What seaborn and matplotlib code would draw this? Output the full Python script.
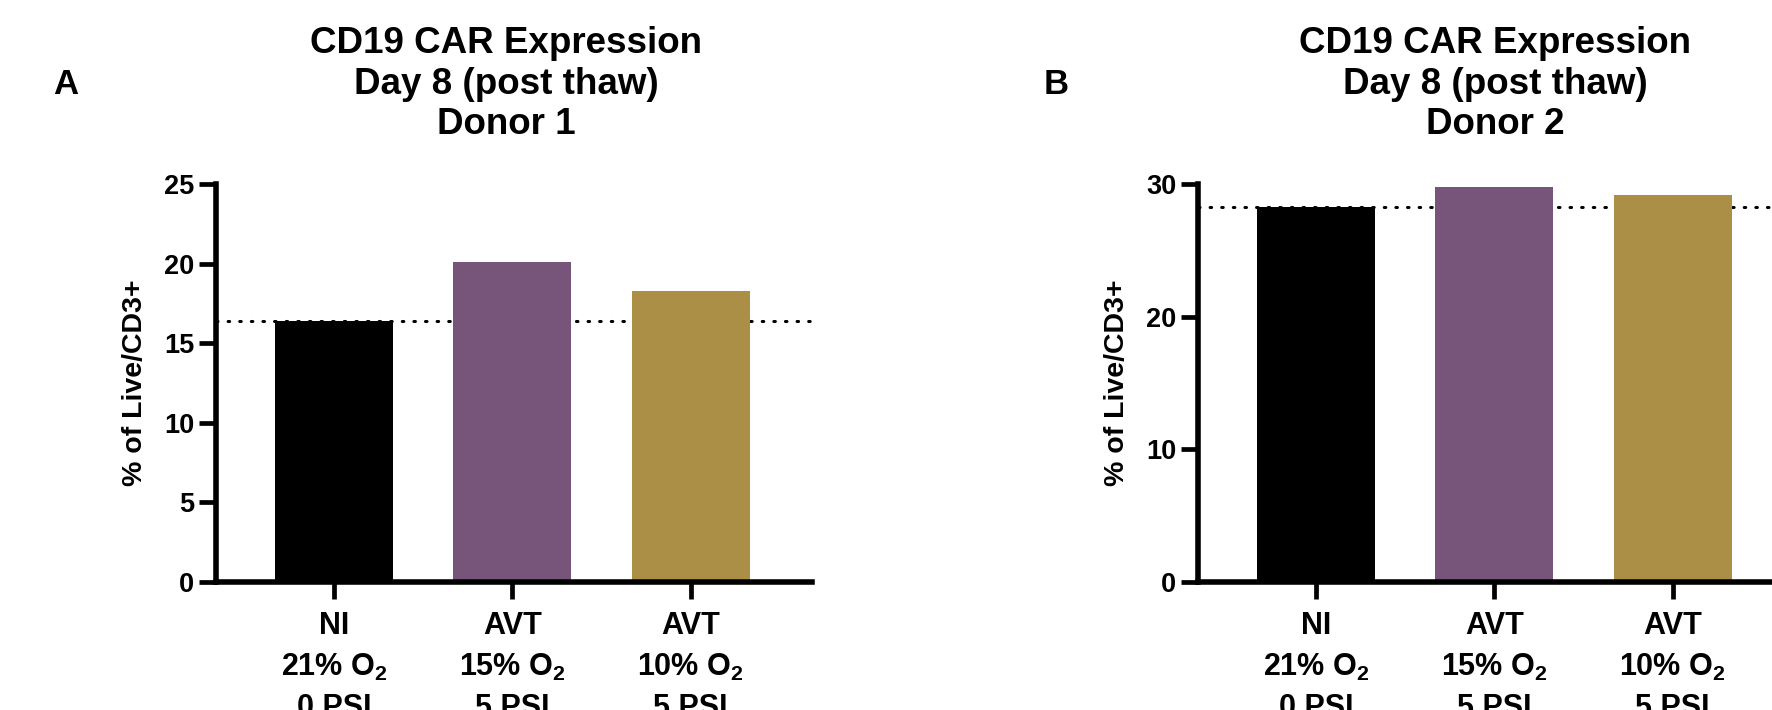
import matplotlib
matplotlib.use("Agg")
from matplotlib import pyplot as plt
import seaborn as sns
import pandas as pd

sns.set_style("ticks")
plt.rcParams["font.family"] = ["Liberation Sans", "DejaVu Sans"]
plt.rcParams["font.weight"] = "bold"
plt.rcParams["mathtext.default"] = "regular"
for key in ["text.color", "axes.labelcolor", "xtick.color", "ytick.color", "axes.edgecolor"]:
    plt.rcParams[key] = "black"

# groups on the x axis
groups = ["NI\n21% O$_2$\n0 PSI", "AVT\n15% O$_2$\n5 PSI", "AVT\n10% O$_2$\n5 PSI"]
# % of Live/CD3+ per donor
donor1 = [16.4, 20.1, 18.3]
donor2 = [28.3, 29.8, 29.2]
bar_colors = ["#000000", "#77557A", "#AC8F47"]

panels = [
    ("A", "CD19 CAR Expression\nDay 8 (post thaw)\nDonor 1", donor1, 25, [0, 5, 10, 15, 20, 25]),
    ("B", "CD19 CAR Expression\nDay 8 (post thaw)\nDonor 2", donor2, 30, [0, 10, 20, 30]),
]

fig = plt.figure(figsize=(17.72, 7.10), dpi=100)

axes_x = [216 / 1772, 1198 / 1772]
title_x = [506 / 1772, 1495 / 1772]
letter_x = [66 / 1772, 1056 / 1772]

for i, (letter, title, vals, top, ticks) in enumerate(panels):
    ax = fig.add_axes([axes_x[i], 128 / 710, 596 / 1772, 398 / 710])
    df = pd.DataFrame({"group": groups, "value": vals})
    sns.barplot(df, x="group", y="value", hue="group", palette=bar_colors,
                saturation=1, width=0.66, legend=False, linewidth=0, ax=ax)
    # dotted reference line at the control (NI) value
    ax.axhline(vals[0], color="black", linewidth=2.2, linestyle=(0, (0.5, 3.3)),
               dash_capstyle="round", zorder=0.5)
    ax.set_xlim(-0.66, 2.68)
    ax.set_ylim(0, top)
    ax.set_yticks(ticks)
    ax.set_xlabel("")
    ax.set_ylabel("% of Live/CD3+", fontsize=20.5, fontweight="bold", labelpad=12)
    sns.despine(ax=ax)
    for side in ["left", "bottom"]:
        ax.spines[side].set_linewidth(4)
    ax.tick_params(axis="both", length=12, width=3.4, color="black")
    ax.tick_params(axis="y", labelsize=19.5, pad=3.5)
    ax.tick_params(axis="x", labelsize=22, pad=9)
    for lab in ax.get_xticklabels() + ax.get_yticklabels():
        lab.set_fontweight("bold")
    for lab in ax.get_xticklabels():
        lab.set_linespacing(1.45)

    fig.text(title_x[i], 1 - 84 / 710, title, ha="center", va="center",
             fontsize=26.5, fontweight="bold", linespacing=1.22)
    fig.text(letter_x[i], 1 - 84 / 710, letter, ha="center", va="center",
             fontsize=25, fontweight="bold")

fig.savefig("out.png", dpi=100)
